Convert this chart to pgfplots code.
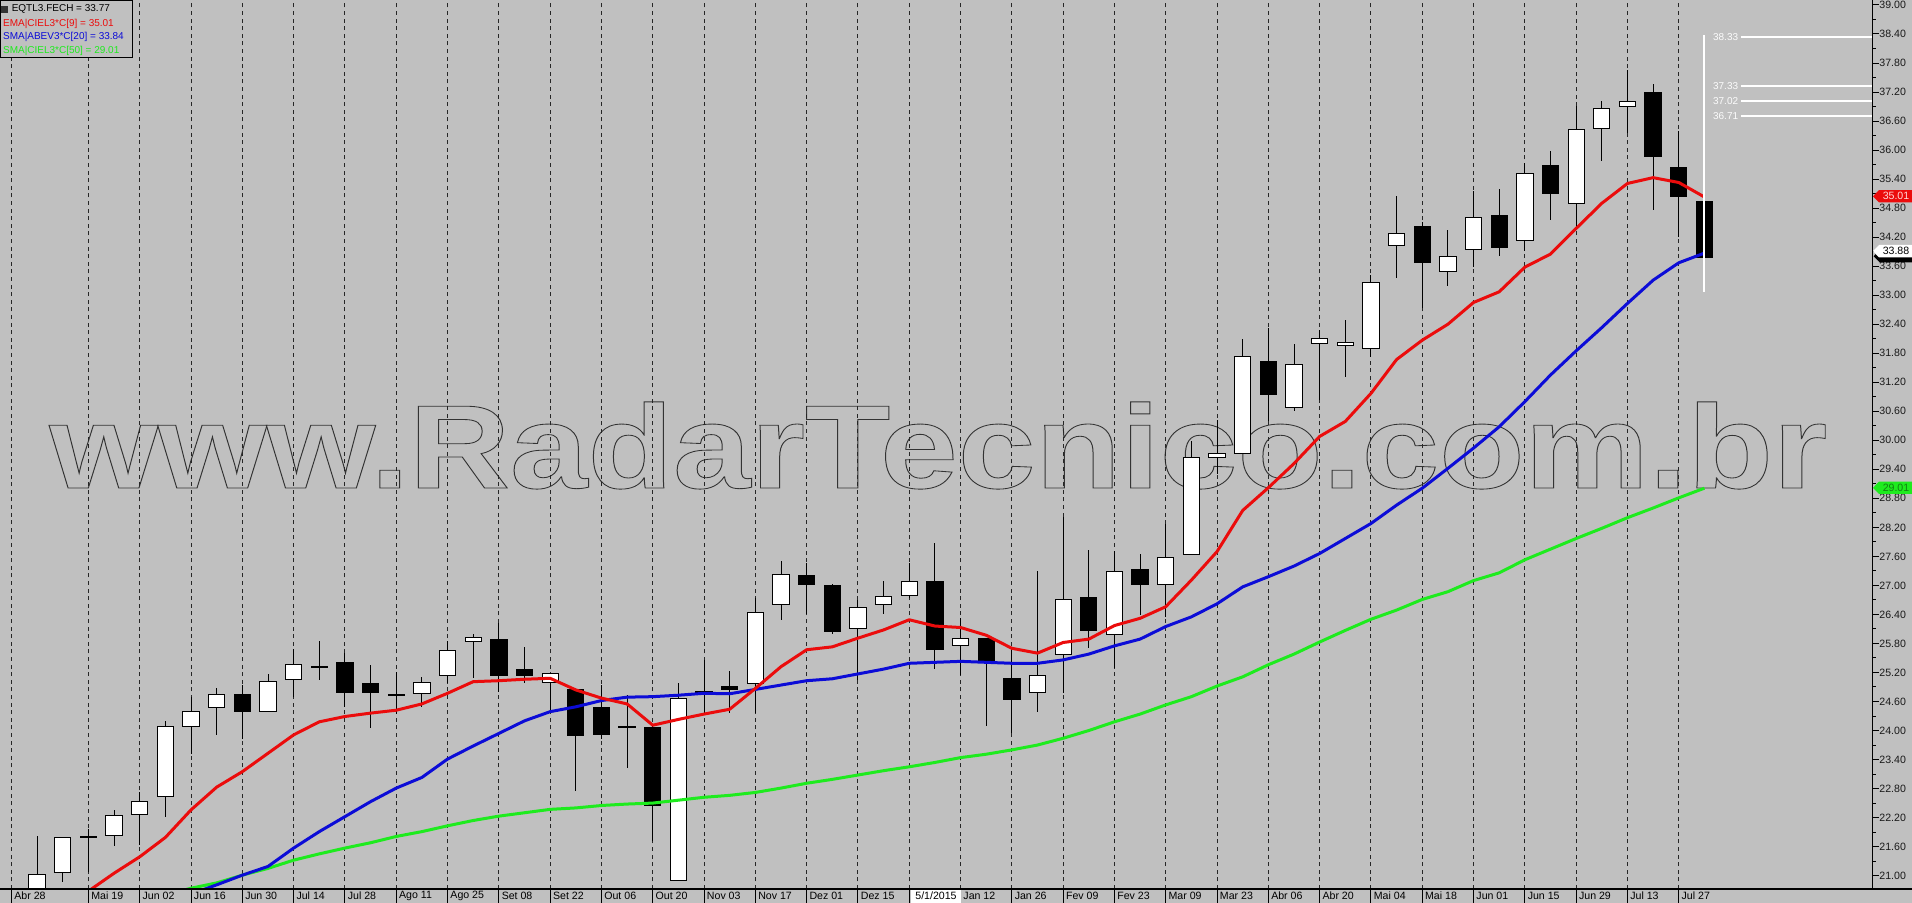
\documentclass[border=0pt]{standalone}
\usepackage{fontspec}
\setmainfont{Liberation Sans}
\usepackage{graphicx}
\usepackage{pgfplots}
\pgfplotsset{compat=1.18}
\usepackage{pgfplotstable}
\definecolor{bgc}{RGB}{192,192,192}
\definecolor{emared}{RGB}{235,12,12}
\definecolor{smablue}{RGB}{12,12,215}
\definecolor{smagreen}{RGB}{30,235,30}
\newcommand\ticfont{\fontsize{5.3pt}{6pt}\selectfont}
\newcommand\legfont{\fontsize{5pt}{6pt}\selectfont}

\pgfplotstableread{
i O H L C
1 20.50 21.82 20.30 21.03
2 21.07 21.80 20.87 21.79
4 21.83 22.36 21.62 22.25
5 22.27 22.72 21.63 22.54
6 22.64 24.19 22.22 24.09
7 24.09 24.70 23.52 24.40
8 24.48 24.88 23.90 24.75
10 24.40 25.17 24.39 25.02
11 25.06 25.69 24.69 25.37
16 24.77 25.11 24.48 25.00
17 25.14 25.85 24.98 25.66
18 25.85 26.00 25.08 25.92
21 25.00 25.19 24.42 25.18
26 20.90 24.98 20.88 24.67
29 24.98 26.73 24.37 26.44
30 26.61 27.51 26.29 27.23
33 26.10 26.70 25.04 26.55
34 26.61 27.09 26.40 26.78
35 26.79 27.47 26.75 27.09
37 25.76 26.32 25.14 25.91
40 24.79 27.30 24.39 25.14
41 25.58 28.41 24.78 26.71
43 25.99 27.71 25.30 27.28
45 27.02 28.27 26.35 27.58
46 27.63 29.99 27.62 29.65
47 29.65 30.41 29.30 29.73
48 29.73 32.10 29.72 31.74
50 30.68 31.99 30.60 31.57
51 32.01 32.28 30.83 32.10
52 31.96 32.49 31.30 32.03
53 31.90 33.42 31.72 33.27
54 34.03 35.05 33.35 34.28
56 33.49 34.35 33.20 33.80
57 33.95 35.15 33.59 34.61
59 34.13 35.74 33.92 35.52
61 34.90 36.91 34.42 36.43
62 36.45 37.02 35.78 36.86
63 36.91 37.66 36.36 37.01
}\up

\pgfplotstableread{
i O H L C
3 21.80 21.97 21.08 21.78
9 24.75 24.94 23.82 24.40
12 25.32 25.85 25.05 25.30
13 25.41 25.60 24.49 24.79
14 24.98 25.35 24.06 24.79
15 24.74 25.20 24.35 24.72
19 25.89 26.23 24.79 25.13
20 25.27 25.72 24.99 25.13
22 24.84 24.86 22.74 23.89
23 24.47 24.94 23.82 23.92
24 24.09 24.74 23.22 24.07
25 24.07 24.10 21.71 22.46
27 24.80 25.45 24.37 24.78
28 24.92 25.23 24.37 24.85
31 27.20 27.47 26.40 27.02
32 26.99 27.02 25.99 26.05
36 27.09 27.88 25.28 25.67
38 25.91 25.92 24.10 25.45
39 25.08 25.67 23.94 24.65
42 26.76 27.73 25.70 26.06
44 27.32 27.65 26.39 27.02
49 31.62 32.32 30.39 30.95
55 34.43 34.51 32.73 33.67
58 34.64 35.20 33.82 33.98
60 35.69 35.98 34.55 35.10
64 37.20 37.37 34.76 35.86
65 35.65 36.40 34.21 35.04
66 34.94 34.95 33.76 33.77
}\down

\pgfplotstableread{
i v
3 20.68
4 21.05
5 21.39
6 21.79
7 22.36
8 22.83
9 23.15
10 23.53
11 23.91
12 24.18
13 24.29
14 24.36
15 24.42
16 24.55
17 24.77
18 25.01
19 25.03
20 25.06
21 25.08
22 24.84
23 24.67
24 24.55
25 24.11
26 24.23
27 24.34
28 24.44
29 24.87
30 25.32
31 25.67
32 25.73
33 25.91
34 26.08
35 26.29
36 26.16
37 26.13
38 25.97
39 25.70
40 25.60
41 25.82
42 25.89
43 26.17
44 26.32
45 26.56
46 27.11
47 27.70
48 28.55
49 29.02
50 29.52
51 30.08
52 30.39
53 30.97
54 31.67
55 32.07
56 32.40
57 32.85
58 33.07
59 33.58
60 33.85
61 34.38
62 34.90
63 35.31
64 35.43
65 35.33
66 35.03
}\ema

\pgfplotstableread{
i v
7 20.62
8 20.81
9 21.01
10 21.19
11 21.57
12 21.91
13 22.22
14 22.53
15 22.81
16 23.03
17 23.41
18 23.68
19 23.94
20 24.20
21 24.39
22 24.49
23 24.62
24 24.69
25 24.70
26 24.73
27 24.77
28 24.76
29 24.85
30 24.94
31 25.03
32 25.07
33 25.17
34 25.27
35 25.39
36 25.41
37 25.43
38 25.41
39 25.39
40 25.39
41 25.46
42 25.58
43 25.75
44 25.89
45 26.15
46 26.35
47 26.62
48 26.97
49 27.18
50 27.40
51 27.66
52 27.97
53 28.28
54 28.66
55 29.01
56 29.42
57 29.84
58 30.28
59 30.80
60 31.35
61 31.85
62 32.33
63 32.83
64 33.31
65 33.67
66 33.87
}\smaa

\pgfplotstableread{
i v
6 20.60
7 20.74
8 20.85
9 21.01
10 21.15
11 21.32
12 21.45
13 21.57
14 21.68
15 21.81
16 21.91
17 22.03
18 22.14
19 22.23
20 22.30
21 22.37
22 22.40
23 22.45
24 22.48
25 22.50
26 22.56
27 22.62
28 22.66
29 22.72
30 22.81
31 22.91
32 22.99
33 23.08
34 23.17
35 23.25
36 23.34
37 23.44
38 23.51
39 23.60
40 23.70
41 23.84
42 24.00
43 24.18
44 24.34
45 24.53
46 24.70
47 24.92
48 25.11
49 25.36
50 25.58
51 25.83
52 26.07
53 26.30
54 26.49
55 26.71
56 26.87
57 27.10
58 27.26
59 27.53
60 27.75
61 27.97
62 28.18
63 28.40
64 28.60
65 28.81
66 29.01
}\smab

\newcommand\xl[2]{\draw[black, line width=0.5pt] (axis cs:#1,20.724) -- ++(0pt,-7pt) node[midway, anchor=west, inner sep=0pt, xshift=1.2pt, font=\ticfont] {#2};}
\newcommand\lev[1]{\draw[white, line width=1pt] (axis cs:67.43,#1) -- (axis cs:72.534,#1);
  \node[anchor=east, inner sep=0pt, text=white!95!bgc, font=\legfont] at (axis cs:67.33,#1) {#1};}

\begin{document}
\begin{tikzpicture}
\useasboundingbox (0,0) rectangle (956pt,451.5pt);
\fill[bgc] (0,0) rectangle (956pt,451.5pt);
% watermark
\node[anchor=base west, inner sep=0pt] at (24.5pt,207.5pt) {\color{bgc}\special{pdf:literal direct 2 Tr 0.42 w 0.2 G}\scalebox{1.176}[1]{\fontsize{59.4pt}{60pt}\selectfont\bfseries www.RadarTecnico.com.br}\special{pdf:literal direct 0 Tr}};

\begin{axis}[
  at={(0pt,7pt)}, anchor=south west,
  scale only axis, width=936pt, height=444.5pt,
  xmin=-0.4483, xmax=72.534, ymin=20.724, ymax=39.103,
  clip mode=individual,
  separate axis lines,
  axis x line*=bottom, axis y line*=right,
  x axis line style={draw=none},
  y axis line style={draw=black, line width=0.5pt},
  xtick={0,3,5,...,65}, xticklabels={},
  xtick style={draw=none},
  xmajorgrids,
  major grid style={black!85, line width=0.5pt, dash pattern=on 2pt off 1.8pt},
  ytick distance=0.6, minor y tick num=1,
  tick align=outside, major tick length=3.5pt, minor tick length=1.8pt,
  ytick style={black, line width=0.5pt},
  yticklabel style={font=\ticfont, anchor=west, inner sep=0pt, text=black!90,
    /pgf/number format/fixed, /pgf/number format/fixed zerofill, /pgf/number format/precision=2},
  /pgf/number format/assume math mode=true,
]
% wicks
\addplot[draw=none, forget plot, error bars/.cd, y dir=both, y explicit, error mark=none,
  error bar style={draw=black, line width=0.5pt}]
  table[x=i, y expr={(\thisrow{H}+\thisrow{L})/2}, y error expr={(\thisrow{H}-\thisrow{L})/2}] {\up};
\addplot[draw=none, forget plot, error bars/.cd, y dir=both, y explicit, error mark=none,
  error bar style={draw=black, line width=0.5pt}]
  table[x=i, y expr={(\thisrow{H}+\thisrow{L})/2}, y error expr={(\thisrow{H}-\thisrow{L})/2}] {\down};
% bodies
\addplot[draw=none, forget plot, error bars/.cd, y dir=both, y explicit, error mark=none,
  error bar style={draw=black, line width=8.65pt}]
  table[x=i, y expr={(\thisrow{O}+\thisrow{C})/2}, y error expr={abs(\thisrow{C}-\thisrow{O})/2+0.0103}] {\up};
\addplot[draw=none, forget plot, error bars/.cd, y dir=both, y explicit, error mark=none,
  error bar style={draw=white, line width=7.65pt}]
  table[x=i, y expr={(\thisrow{O}+\thisrow{C})/2}, y error expr={abs(\thisrow{C}-\thisrow{O})/2-0.0103}] {\up};
\addplot[draw=none, forget plot, error bars/.cd, y dir=both, y explicit, error mark=none,
  error bar style={draw=black, line width=8.65pt}]
  table[x=i, y expr={(\thisrow{O}+\thisrow{C})/2}, y error expr={abs(\thisrow{C}-\thisrow{O})/2+0.0103}] {\down};
% averages
\addplot[smagreen, line width=1.5pt, line join=round] table[x=i, y=v] {\smab};
\addplot[smablue, line width=1.5pt, line join=round] table[x=i, y=v] {\smaa};
\addplot[emared, line width=1.5pt, line join=round] table[x=i, y=v] {\ema};
% levels
\draw[white, line width=1pt] (axis cs:66,33.07) -- (axis cs:66,38.38);
\lev{38.33}
\lev{37.33}
\lev{37.02}
\lev{36.71}
% x labels
\xl{0}{Abr 28}
\xl{3}{Mai 19}
\xl{5}{Jun 02}
\xl{7}{Jun 16}
\xl{9}{Jun 30}
\xl{11}{Jul 14}
\xl{13}{Jul 28}
\xl{15}{Ago 11}
\xl{17}{Ago 25}
\xl{19}{Set 08}
\xl{21}{Set 22}
\xl{23}{Out 06}
\xl{25}{Out 20}
\xl{27}{Nov 03}
\xl{29}{Nov 17}
\xl{31}{Dez 01}
\xl{33}{Dez 15}
\xl{35}{}
\xl{37}{Jan 12}
\xl{39}{Jan 26}
\xl{41}{Fev 09}
\xl{43}{Fev 23}
\xl{45}{Mar 09}
\xl{47}{Mar 23}
\xl{49}{Abr 06}
\xl{51}{Abr 20}
\xl{53}{Mai 04}
\xl{55}{Mai 18}
\xl{57}{Jun 01}
\xl{59}{Jun 15}
\xl{61}{Jun 29}
\xl{63}{Jul 13}
\xl{65}{Jul 27}
\end{axis}

% bottom line
\draw[black, line width=0.75pt] (0,7pt) -- (956pt,7pt);
% cursor date box
\fill[white] (455.5pt,0) rectangle (480.6pt,6.6pt);
\node[font=\ticfont, inner sep=0pt] at (468pt,3.4pt) {5/1/2015};
% tags
\fill[emared] (936.5pt,353.35pt) -- (939.5pt,356.45pt) -- (956pt,356.45pt) -- (956pt,350.25pt) -- (939.5pt,350.25pt) -- cycle;
\node[font=\ticfont, text=white!85!red, inner sep=0pt] at (948pt,353.35pt) {35.01};
\fill[black] (936.8pt,323.4pt) -- (939.8pt,326.5pt) -- (956pt,326.5pt) -- (956pt,320.3pt) -- (939.8pt,320.3pt) -- cycle;
\fill[white] (936.5pt,325.9pt) -- (939.5pt,329pt) -- (956pt,329pt) -- (956pt,322.8pt) -- (939.5pt,322.8pt) -- cycle;
\node[font=\ticfont, text=black, inner sep=0pt] at (948pt,325.9pt) {33.88};
\fill[smagreen] (936.5pt,207.6pt) -- (939.5pt,210.7pt) -- (956pt,210.7pt) -- (956pt,204.5pt) -- (939.5pt,204.5pt) -- cycle;
\node[font=\ticfont, text=black!45!smagreen, inner sep=0pt] at (948pt,207.6pt) {29.01};
% legend
\fill[bgc] (0,451.5pt) rectangle (66.35pt,422.85pt);
\draw[black, line width=0.5pt] (0.25pt,451.25pt) rectangle (66.35pt,422.85pt);
\fill[black!80] (0.6pt,448.6pt) rectangle (4.1pt,445.1pt);
\node[anchor=west, inner sep=0pt, font=\legfont, text=black] at (5.7pt,446.85pt) {EQTL3.FECH = 33.77};
\node[anchor=west, inner sep=0pt, font=\legfont, text=emared] at (1.35pt,439.75pt) {EMA|CIEL3*C[9] = 35.01};
\node[anchor=west, inner sep=0pt, font=\legfont, text=smablue] at (1.35pt,432.85pt) {SMA|ABEV3*C[20] = 33.84};
\node[anchor=west, inner sep=0pt, font=\legfont, text=smagreen] at (1.35pt,425.85pt) {SMA|CIEL3*C[50] = 29.01};
\end{tikzpicture}
\end{document}
